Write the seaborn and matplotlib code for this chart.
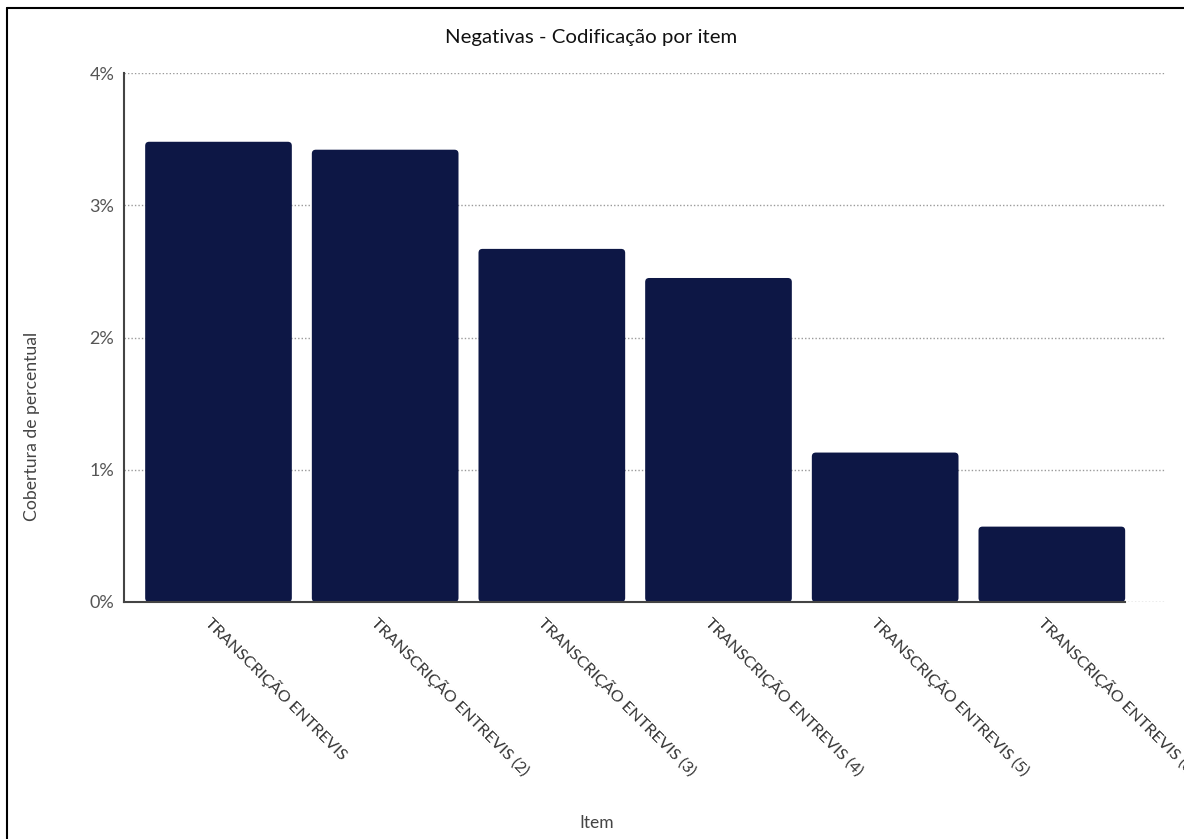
import matplotlib.pyplot as plt
import matplotlib.ticker as mticker
import matplotlib.transforms as mtransforms
from matplotlib.patches import FancyBboxPatch
from matplotlib.lines import Line2D
import seaborn as sns
import pandas as pd

# ── Data ──────────────────────────────────────────────────────────────────────

items = [
    "TRANSCRIÇÃO ENTREVIS",
    "TRANSCRIÇÃO ENTREVIS (2)",
    "TRANSCRIÇÃO ENTREVIS (3)",
    "TRANSCRIÇÃO ENTREVIS (4)",
    "TRANSCRIÇÃO ENTREVIS (5)",
    "TRANSCRIÇÃO ENTREVIS (6)",
]
coverage_pct = [3.48, 3.42, 2.67, 2.45, 1.13, 0.57]
y_ticks = [0, 1, 2, 3, 4]

BAR_COLOR = "#0d1745"

# ── Style ─────────────────────────────────────────────────────────────────────

sns.set_theme(style="white")
plt.rcParams["font.family"] = ["Lato", "DejaVu Sans"]

df = pd.DataFrame({"Item": items, "Cobertura": coverage_pct})

fig = plt.figure(figsize=(11.84, 8.39), dpi=100)
ax = fig.add_axes([124 / 1184, 1 - 602 / 839, (1166 - 124) / 1184, (602 - 73) / 839])

sns.barplot(data=df, x="Item", y="Cobertura", color=BAR_COLOR, width=0.88,
            saturation=1, ax=ax)

# rounded bar corners
x_px = (1166 - 124) / (5.685 + 0.567)
y_px = (602 - 73) / 4
for bar in list(ax.patches):
    x, y = bar.get_x(), bar.get_y()
    w, h = bar.get_width(), bar.get_height()
    rounded = FancyBboxPatch(
        (x, y), w, h,
        boxstyle=f"round,pad=0,rounding_size={4 / x_px}",
        mutation_aspect=x_px / y_px,
        facecolor=BAR_COLOR, edgecolor="none", zorder=2,
    )
    bar.remove()
    ax.add_patch(rounded)

ax.set_xlim(-0.567, 5.685)
ax.set_ylim(0, 4)
ax.set_yticks(y_ticks)
ax.yaxis.set_major_formatter(mticker.StrMethodFormatter("{x:.0f}%"))
ax.grid(axis="y", linestyle=(0, (1, 1.5)), color="#9a9a9a", linewidth=1, zorder=0)
ax.set_axisbelow(True)

for side in ["top", "right"]:
    ax.spines[side].set_visible(False)
ax.spines["left"].set_color("#444444")
ax.spines["left"].set_linewidth(1.5)
ax.spines["bottom"].set_color("#444444")
ax.spines["bottom"].set_linewidth(1.5)
ax.spines["bottom"].set_bounds(-0.567, 5.44)
ax.spines["bottom"].set_zorder(3)

ax.tick_params(axis="y", length=0, pad=7, labelsize=13, labelcolor="#555555")
ax.tick_params(axis="x", length=0, pad=13, labelsize=11.8, labelcolor="#333333")
ax.set_xticks(range(len(items)))
ax.set_xticklabels(items, rotation=-45, ha="left", va="center",
                   rotation_mode="anchor")
shift = mtransforms.ScaledTranslation(-11 / 100, 0, fig.dpi_scale_trans)
for lbl in ax.get_xticklabels():
    lbl.set_transform(lbl.get_transform() + shift)

ax.set_xlabel("")
ax.set_ylabel("")

fig.text(591 / 1184, 1 - 37 / 839, "Negativas - Codificação por item",
         ha="center", va="center", fontsize=14.7, color="#111111")
fig.text(597 / 1184, 1 - 823 / 839, "Item", ha="center", va="center",
         fontsize=12.5, color="#444444")
fig.text(32 / 1184, 1 - 426 / 839, "Cobertura de percentual", ha="center",
         va="center", rotation=90, fontsize=12.7, color="#444444")

# outer frame (only left and top edges visible)
fig.add_artist(Line2D([7 / 1184, 7 / 1184], [0, 1 - 8 / 839],
                      transform=fig.transFigure, color="black", linewidth=1.5))
fig.add_artist(Line2D([7 / 1184, 1], [1 - 8 / 839, 1 - 8 / 839],
                      transform=fig.transFigure, color="black", linewidth=1.5))

fig.savefig("out.png", dpi=100)
